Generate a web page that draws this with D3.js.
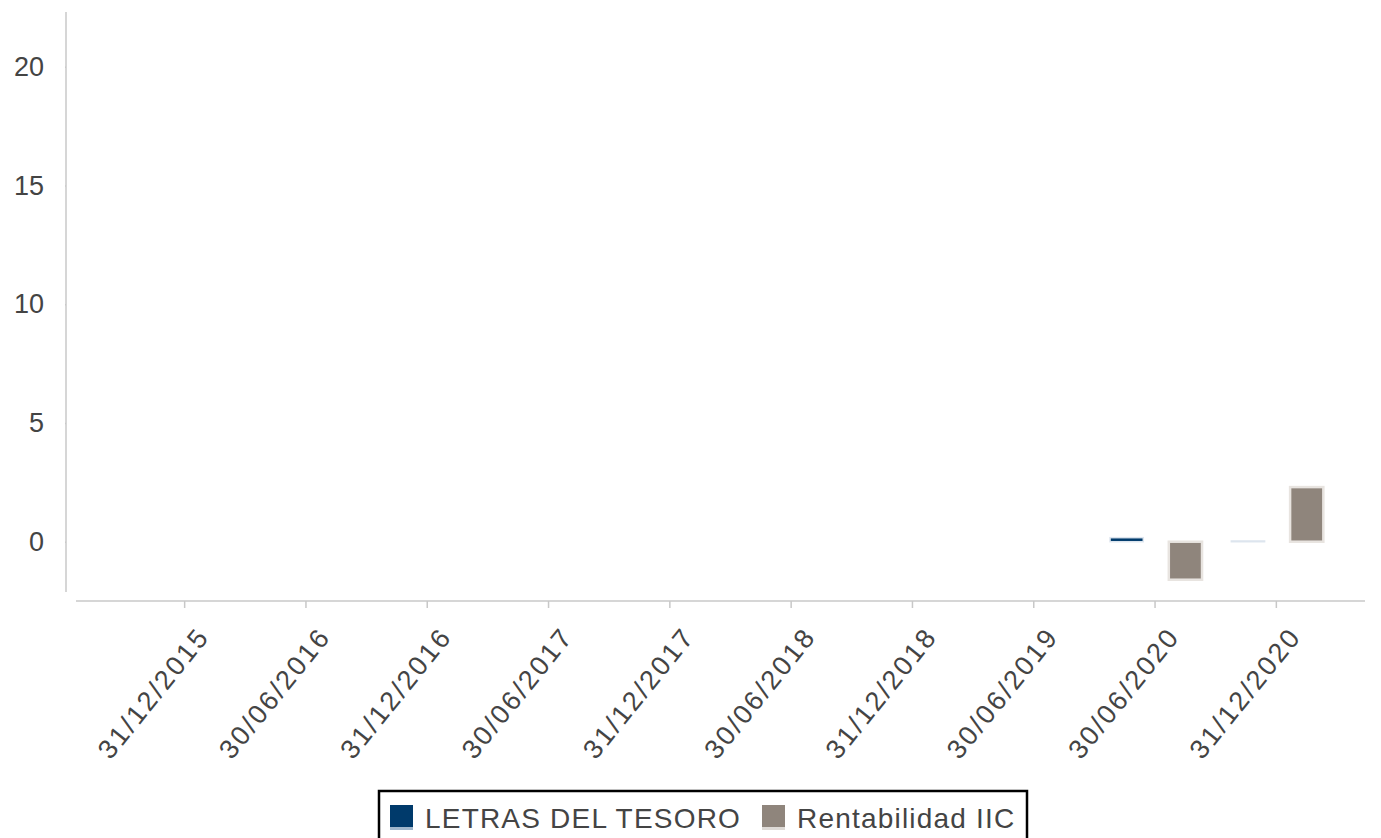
<!DOCTYPE html>
<html>
<head>
<meta charset="utf-8">
<script src="https://d3js.org/d3.v7.min.js"></script>
<style>
  body { margin: 0; background: #fff; }
  text { font-family: "Liberation Sans", Arial, sans-serif; fill: #444; }
</style>
</head>
<body>
<div id="chart"></div>
<script>
// categories and series
const fechas = ['31/12/2015', '30/06/2016', '31/12/2016', '30/06/2017', '31/12/2017',
  '30/06/2018', '31/12/2018', '30/06/2019', '30/06/2020', '31/12/2020'];
const letras = [null, null, null, null, null, null, null, null, 0.17, 0.03];
const rentabilidad = [null, null, null, null, null, null, null, null, -1.6, 2.3];
const seriesNames = ['LETRAS DEL TESORO', 'Rentabilidad IIC'];
const seriesColors = ['#003a6b', '#8f857c'];
const yTicks = [0, 5, 10, 15, 20];

const width = 1381, height = 838;

const svg = d3.select('#chart').append('svg')
  .attr('width', width)
  .attr('height', height);

// scales
const x = d3.scaleBand().domain(fechas).range([124, 1337]);
const xSub = d3.scaleBand().domain([0, 1]).range([-46, 48]).paddingInner(0.4);
const y = d3.scaleLinear().domain([-2.5, 22.5]).range([601.1, 7.3]);

// y axis
const yAxis = svg.append('g')
  .attr('transform', 'translate(66,0)')
  .call(d3.axisLeft(y).tickValues(yTicks).tickSize(8).tickPadding(14));
yAxis.select('.domain').remove();
yAxis.selectAll('.tick line').attr('stroke', '#c8c8c8').attr('stroke-width', 1.5).attr('x2', -1);
yAxis.selectAll('.tick text').style('font-size', '27px').attr('fill', '#4a4a4a');
svg.append('line')
  .attr('x1', 66).attr('x2', 66).attr('y1', 12).attr('y2', 592)
  .attr('stroke', '#c8c8c8').attr('stroke-width', 1.5);

// x axis
const xAxis = svg.append('g')
  .attr('transform', 'translate(0,601)')
  .call(d3.axisBottom(x).tickSize(7));
xAxis.select('.domain').remove();
xAxis.selectAll('.tick line').attr('stroke', '#c8c8c8').attr('stroke-width', 1.5);
xAxis.selectAll('.tick text')
  .style('font-size', '27px')
  .style('letter-spacing', '2.4px')
  .attr('fill', '#4a4a4a')
  .attr('text-anchor', 'end')
  .attr('x', 0).attr('y', 0).attr('dy', 0)
  .attr('transform', 'translate(26,36) rotate(-51)');
svg.append('line')
  .attr('x1', 76).attr('x2', 1365).attr('y1', 601).attr('y2', 601)
  .attr('stroke', '#c8c8c8').attr('stroke-width', 1.5);

// bars
[letras, rentabilidad].forEach((vals, si) => {
  svg.append('g').selectAll('rect')
    .data(vals.map((v, i) => ({ v, cat: fechas[i] })).filter(d => d.v !== null))
    .enter()
    .append('rect')
    .attr('x', d => x(d.cat) + x.bandwidth() / 2 + xSub(si) + 1)
    .attr('width', xSub.bandwidth() - 2)
    .attr('y', d => y(Math.max(0, d.v)))
    .attr('height', d => Math.abs(y(d.v) - y(0)))
    .attr('fill', seriesColors[si])
    .attr('stroke', si === 0 ? '#dde5ee' : '#e8e4e0')
    .attr('stroke-width', si === 0 ? 1.5 : 2.5);
});

// legend
const legend = svg.append('g');
legend.append('rect')
  .attr('x', 379).attr('y', 791).attr('width', 648).attr('height', 60)
  .attr('fill', '#fff').attr('stroke', '#000').attr('stroke-width', 2.5);
const legendX = [390, 762];
seriesNames.forEach((name, i) => {
  legend.append('rect')
    .attr('x', legendX[i]).attr('y', 805).attr('width', 23).attr('height', 22)
    .attr('fill', seriesColors[i]);
  legend.append('rect')
    .attr('x', legendX[i]).attr('y', 827).attr('width', 23).attr('height', 3)
    .attr('fill', i === 0 ? '#9fb6cc' : '#dedad6');
  legend.append('text')
    .attr('x', legendX[i] + 35).attr('y', 828)
    .style('font-size', '28px')
    .style('letter-spacing', '1.2px')
    .attr('fill', '#3a3a3a')
    .text(name);
});
</script>
</body>
</html>
